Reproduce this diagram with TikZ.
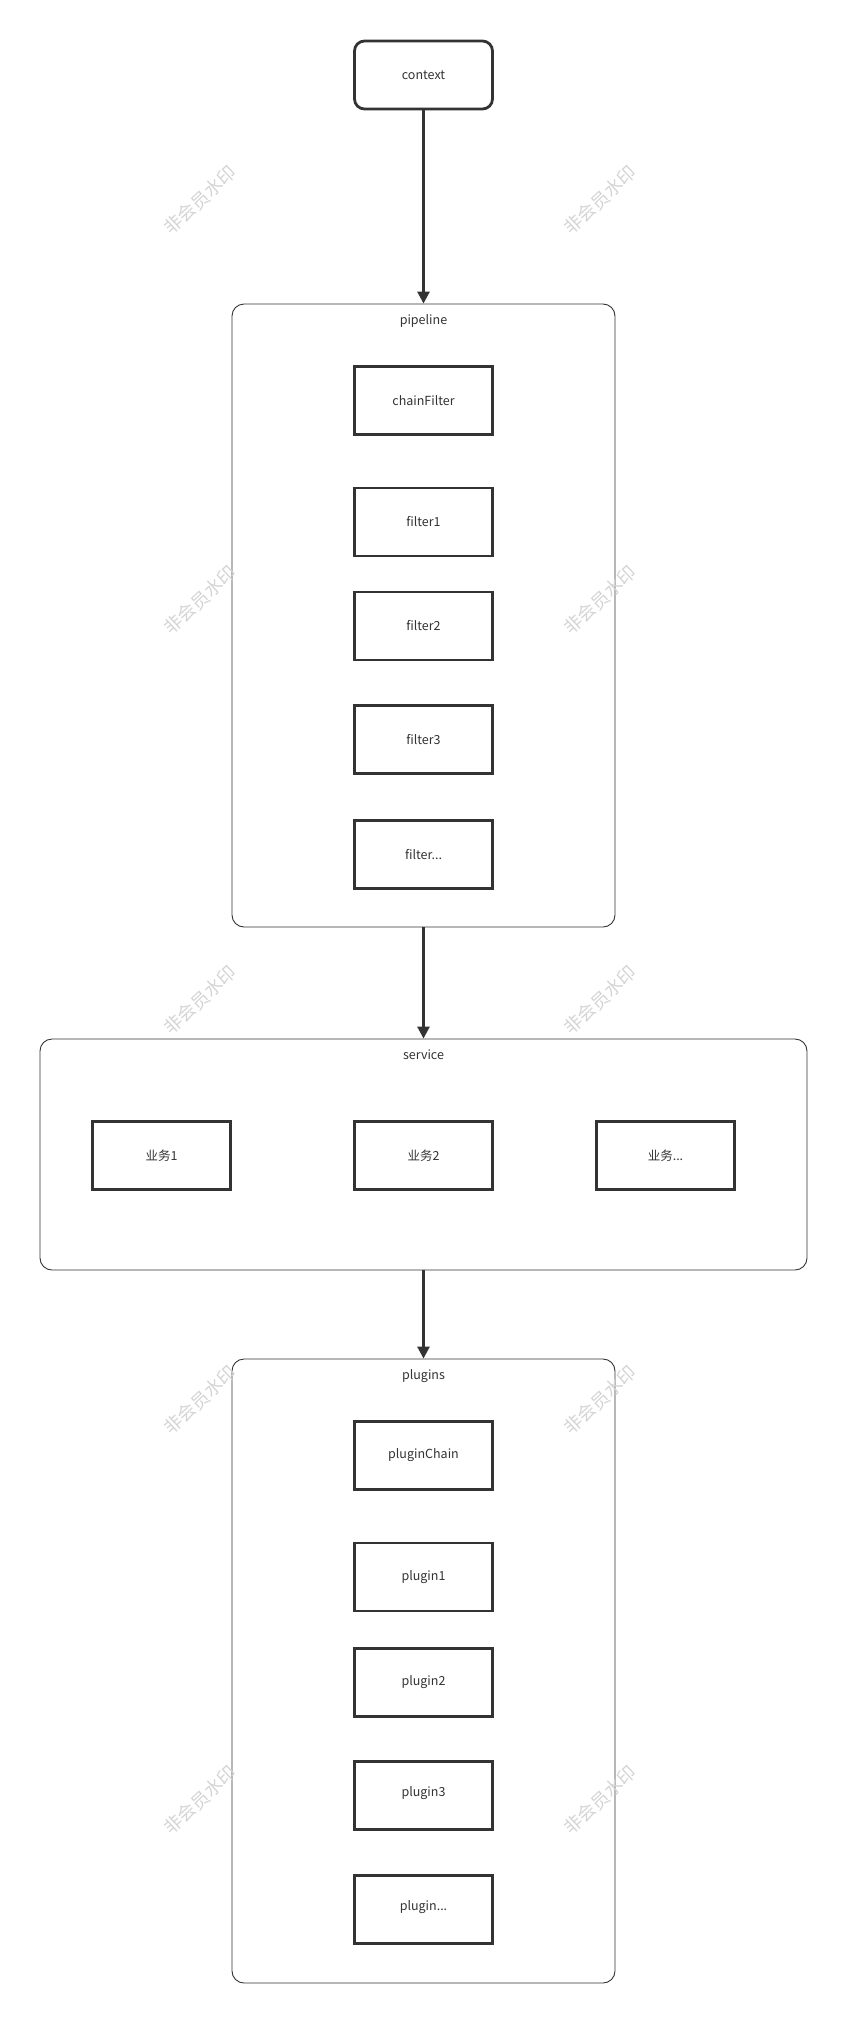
\documentclass[tikz,border=0pt]{standalone}
\usepackage{fontspec}
\setmainfont{Noto Sans CJK SC}
\usetikzlibrary{arrows.meta}
\definecolor{ink}{HTML}{333333}
\tikzset{
  itembox/.style={draw=ink, line width=2.8pt, minimum width=138pt, minimum height=68pt, inner sep=0pt, font=\fontsize{12.5}{14}\selectfont, text=ink},
  startbox/.style={itembox, rounded corners=10pt},
  groupbox/.style={draw=ink, line width=0.9pt, rounded corners=12pt, inner sep=0pt},
  grouplabel/.style={font=\fontsize{12.5}{14}\selectfont, text=ink, inner sep=0pt},
  flow/.style={draw=ink, line width=2.8pt, -{Triangle[width=12pt,length=12pt]}},
  wmark/.style={rotate=43, text=black!17, font=\fontsize{18}{18}\selectfont, inner sep=0pt}
}
\begin{document}
\begin{tikzpicture}[x=1pt,y=-1pt]
\useasboundingbox (0,0) rectangle (846,2023);
\fill[white] (0,0) rectangle (846,2023);

% context
\node[startbox] (ctx) at (423.5,75) {context};

% pipeline group
\node[groupbox, minimum width=383pt, minimum height=623pt] (pipe) at (423.5,615.5) {};
\node[grouplabel] (pipelbl) at (423.5,321) {pipeline};
\node[itembox] (chain) at (423.5,400.5) {chainFilter};
\node[itembox] (f1) at (423.5,522) {filter1};
\node[itembox] (f2) at (423.5,626) {filter2};
\node[itembox] (f3) at (423.5,739.5) {filter3};
\node[itembox] (fn) at (423.5,854.5) {filter...};

% service group
\node[groupbox, minimum width=767pt, minimum height=231pt] (svc) at (423.5,1154.5) {};
\node[grouplabel] (svclbl) at (423.5,1055) {service};
\node[itembox] (b1) at (161.5,1155.5) {业务1};
\node[itembox] (b2) at (423.5,1155.5) {业务2};
\node[itembox] (bn) at (665.5,1155.5) {业务...};

% plugins group
\node[groupbox, minimum width=383pt, minimum height=624pt] (plug) at (423.5,1671) {};
\node[grouplabel] (pluglbl) at (423.5,1376) {plugins};
\node[itembox] (pc) at (423.5,1455.5) {pluginChain};
\node[itembox] (p1) at (423.5,1577) {plugin1};
\node[itembox] (p2) at (423.5,1682.5) {plugin2};
\node[itembox] (p3) at (423.5,1795.5) {\raisebox{8pt}{plugin3}};
\node[itembox] (pn) at (423.5,1909.5) {\raisebox{7pt}{plugin...}};

% connectors
\draw[flow] (ctx.south) -- (pipe.north);
\draw[flow] (pipe.south) -- (svc.north);
\draw[flow] (svc.south) -- (plug.north);

% watermarks
\foreach \wy in {200,600,1000,1400,1800}{
  \node[wmark] at (200,\wy) {非会员水印};
  \node[wmark] at (600,\wy) {非会员水印};
}
\end{tikzpicture}
\end{document}
